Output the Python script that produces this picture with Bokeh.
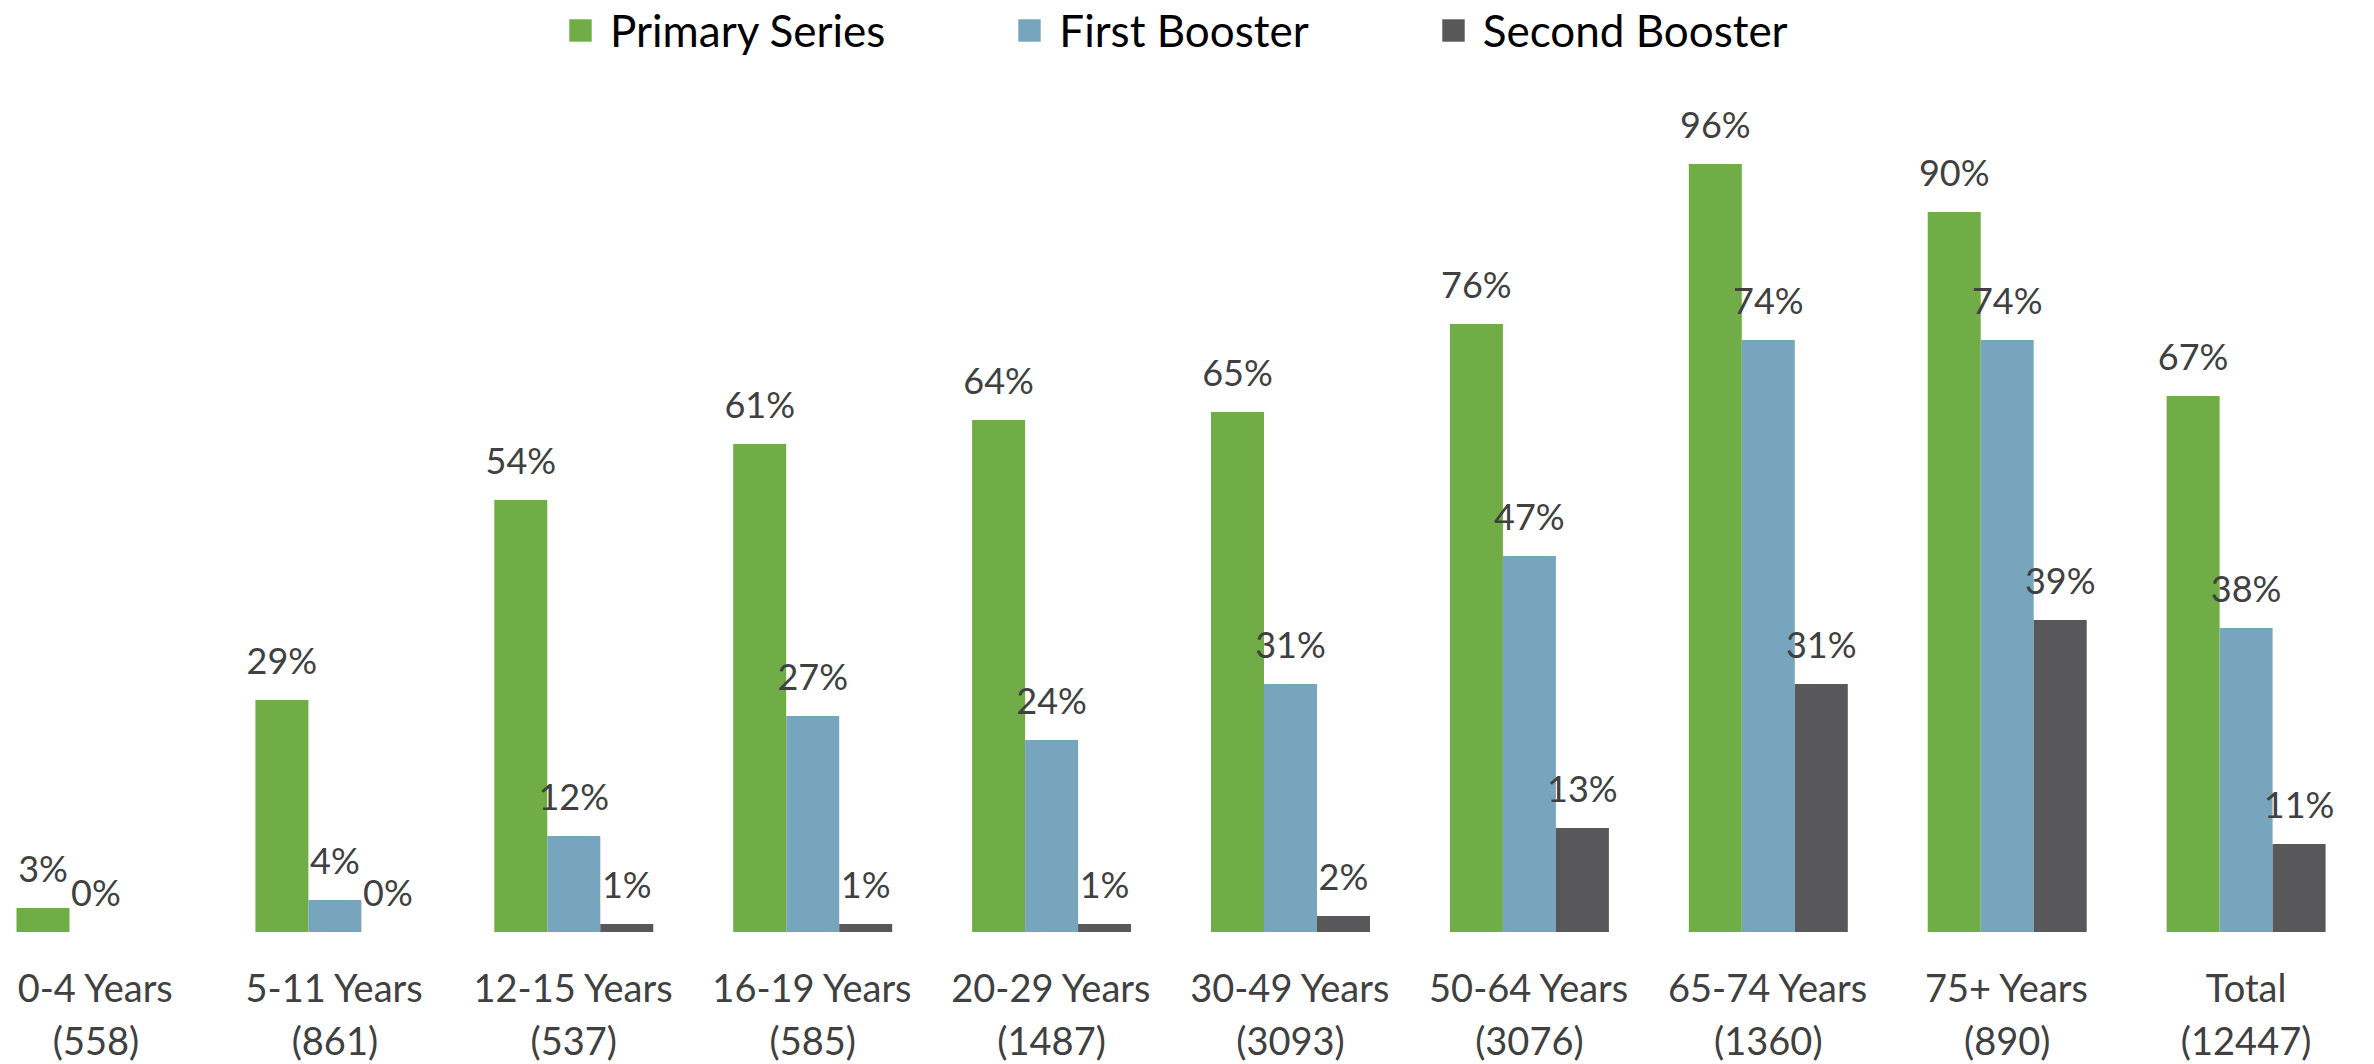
from bokeh.plotting import figure
from bokeh.models import Range1d, ColumnDataSource, Legend, LegendItem
from bokeh.core.properties import value
from bokeh.embed import file_html
from bokeh.resources import INLINE

categories = ["0-4 Years", "5-11 Years", "12-15 Years", "16-19 Years", "20-29 Years",
              "30-49 Years", "50-64 Years", "65-74 Years", "75+ Years", "Total"]
counts = ["(558)", "(861)", "(537)", "(585)", "(1487)", "(3093)", "(3076)", "(1360)", "(890)", "(12447)"]
primary_series = [3, 29, 54, 61, 64, 65, 76, 96, 90, 67]
first_booster = [0, 4, 12, 27, 24, 31, 47, 74, 74, 38]
second_booster = [None, 0, 1, 1, 1, 2, 13, 31, 39, 11]

series_names = ["Primary Series", "First Booster", "Second Booster"]
series_values = [primary_series, first_booster, second_booster]
colors = ["#70AD47", "#78A5BE", "#58585A"]

W, H = 2374, 1064
BAR_W = 0.2218
offsets = [-BAR_W, 0.0, BAR_W]
FONT = "Lato"
TXT = "#404040"

p = figure(width=W, height=H, output_backend="svg", toolbar_location=None,
           x_range=Range1d(-0.3997, 9.5374), y_range=Range1d(-16.5625, 116.4375),
           min_border=0, min_border_left=0, min_border_right=0,
           min_border_top=0, min_border_bottom=0)
p.axis.visible = False
p.xgrid.visible = False
p.ygrid.visible = False
p.outline_line_color = None
p.background_fill_color = "white"
p.border_fill_color = "white"

renderers = []
for name, vals, off, col in zip(series_names, series_values, offsets, colors):
    xs, ys, labels = [], [], []
    for i, v in enumerate(vals):
        if v is None:
            continue
        xs.append(i + off)
        ys.append(v)
        labels.append(f"{v}%")
    src = ColumnDataSource(dict(x=xs, top=ys, label=labels))
    r = p.vbar(x="x", top="top", bottom=0, width=BAR_W, source=src,
               fill_color=col, line_color=None)
    renderers.append((name, r))
    p.text(x="x", y="top", text="label", source=src, text_align="center",
           text_baseline="middle", y_offset=-40, text_font=value(FONT),
           text_font_size="36px", text_color=TXT)

cat_src = ColumnDataSource(dict(x=list(range(len(categories))), y=[0] * len(categories),
                                name=categories, n=counts))
p.text(x="x", y="y", text="name", source=cat_src, text_align="center",
       text_baseline="middle", y_offset=55, text_font=value(FONT),
       text_font_size="38px", text_color=TXT)
p.text(x="x", y="y", text="n", source=cat_src, text_align="center",
       text_baseline="middle", y_offset=108, text_font=value(FONT),
       text_font_size="38px", text_color=TXT)

legend = Legend(items=[LegendItem(label=n, renderers=[r]) for n, r in renderers],
                orientation="horizontal", location=(566, H - 56),
                glyph_width=28, glyph_height=28, label_standoff=16, spacing=130,
                padding=0, margin=0, border_line_color=None, background_fill_alpha=0,
                label_text_font=FONT, label_text_font_size="44px", label_text_color="black",
                label_height=28)
p.add_layout(legend, "center")

open("out.html", "w").write(file_html(p, INLINE))
